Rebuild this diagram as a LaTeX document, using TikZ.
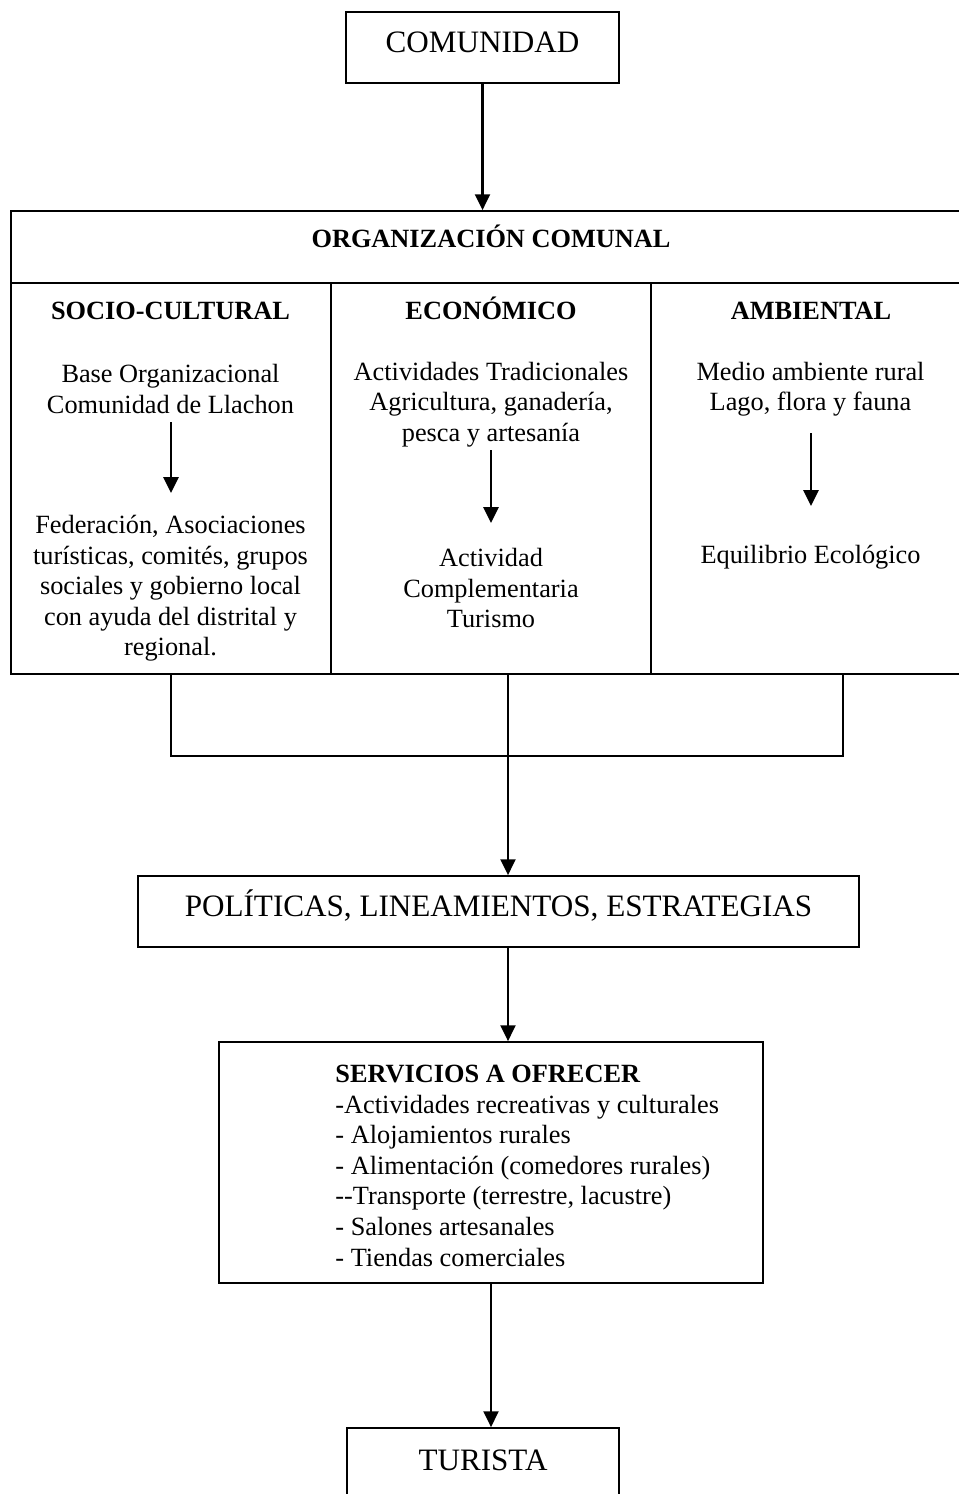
\documentclass[tikz,border=0pt]{standalone}
\usepackage{fontspec}
\setmainfont{Liberation Serif}
\usetikzlibrary{arrows.meta}
\def\u{0.456pt}
\begin{document}
\begin{tikzpicture}[x=0.456pt,y=-0.456pt,
  box/.style={draw, line width=0.8pt, inner sep=0pt},
  arr/.style={line width=1.1pt, -{Triangle[length=7.2pt,width=6.8pt]}},
  ln/.style={line width=0.8pt},
  body/.style={font=\fontsize{12}{13.9}\selectfont, align=center, inner sep=0pt},
  bodyl/.style={font=\fontsize{12}{13.95}\selectfont, align=left, inner sep=0pt},
  capb/.style={font=\bfseries\fontsize{12}{14}\selectfont, inner sep=0pt, text height=8.1pt, text depth=0pt},
  capr/.style={font=\fontsize{12}{14}\selectfont, inner sep=0pt, text height=7.9pt, text depth=0pt},
  big/.style={font=\fontsize{14.2}{17}\selectfont, text height=9.4pt}]
\useasboundingbox (0,0) rectangle (959,1494);
\clip (0,0) rectangle (959,1494);

% top box
\node[box, big, minimum width=273*\u, minimum height=71*\u, text depth=4.56pt] (com) at (482.5,47.5) {COMUNIDAD};

% table
\node[box, capb, minimum width=960*\u, minimum height=72*\u, text depth=7.75pt] (org) at (491,247) {ORGANIZACIÓN COMUNAL};
\node[box, minimum width=320*\u, minimum height=391*\u] (soc) at (171,478.5) {};
\node[box, minimum width=320*\u, minimum height=391*\u] (eco) at (491,478.5) {};
\node[box, minimum width=320*\u, minimum height=391*\u] (amb) at (811,478.5) {};

% column 1
\node[capb] (h1) at (170.5,310.5) {SOCIO-CULTURAL};
\node[body] (t1) at (170.5,389) {Base Organizacional\\Comunidad de Llachon};
\node[body] (b1) at (170.5,588.5) {Federación, Asociaciones\\turísticas, comités, grupos\\sociales y gobierno local\\con ayuda del distrital y\\regional.};
% column 2
\node[capb] (h2) at (491,310.5) {ECONÓMICO};
\node[body] (t2) at (491,404.5) {Actividades Tradicionales\\Agricultura, ganadería,\\pesca y artesanía};
\node[body] (b2) at (491,588) {Actividad\\Complementaria\\Turismo};
% column 3
\node[capb] (h3) at (811,310.5) {AMBIENTAL};
\node[body] (t3) at (810.5,389) {Medio ambiente rural\\Lago, flora y fauna};
\node[capr] (b3) at (810.5,555) {Equilibrio Ecológico};

\coordinate (s1) at (171,422); \coordinate (e1) at (171,493);
\coordinate (s2) at (491,450); \coordinate (e2) at (491,523);
\coordinate (s3) at (811,433); \coordinate (e3) at (811,506);
\draw[arr] (s1) -- (e1);
\draw[arr] (s2) -- (e2);
\draw[arr] (s3) -- (e3);

% policies box
\node[box, big, minimum width=721*\u, minimum height=71*\u, text depth=5pt] (pol) at (498.5,911.5) {POLÍTICAS, LINEAMIENTOS, ESTRATEGIAS};

% services box
\node[box, minimum width=544*\u, minimum height=241*\u] (serv) at (491,1162.5) {};
\node[bodyl, anchor=west] (servtxt) at (335,1165.75) {\textbf{SERVICIOS A OFRECER}\\-Actividades recreativas y culturales\\- Alojamientos rurales\\- Alimentación (comedores rurales)\\-{}-Transporte (terrestre, lacustre)\\- Salones artesanales\\- Tiendas comerciales};

% tourist box
\node[box, big, minimum width=272*\u, minimum height=71*\u, text depth=3.2pt] (tur) at (483,1463.5) {TURISTA};

% bracket
\coordinate (tr) at (843,674);
\coordinate (tc) at (508,674);
\coordinate (bl) at (171,756);
\coordinate (bc) at (508,756);
\coordinate (br) at (843,756);
\draw[ln] (soc.south) -- (bl) -- (br) -- (tr);

% arrows
\draw[arr] (com.south) -- (com.south |- org.north);
\draw[arr] (tc) -- (tc |- pol.north);
\draw[arr] (pol.south -| bc) -- (bc |- serv.north);
\draw[arr] (serv.south) -- (serv.south |- tur.north);
\end{tikzpicture}
\end{document}
